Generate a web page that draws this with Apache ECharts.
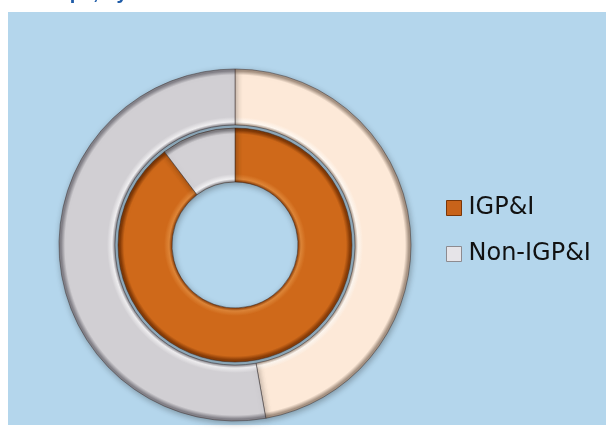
<!DOCTYPE html>
<html>
<head>
<meta charset="utf-8">
<script src="https://cdn.jsdelivr.net/npm/echarts@6/dist/echarts.min.js"></script>
<style>
  html, body { margin: 0; padding: 0; background: #ffffff; }
  #chart { width: 606px; height: 435px; }
</style>
</head>
<body>
<div id="chart"></div>
<script>
// Categories and shares (%) for the two rings
const categories = ['IGP&I', 'Non-IGP&I'];
const innerShares = [89.7, 10.3];   // inner ring
const outerShares = [47.2, 52.8];   // outer ring

const titleText = 'Groups, by Decade';

const cx = 235, cy = 245;
const innerR = [63, 117];
const outerR = [120, 176];

// Tube-like shading across a ring, laid out in chart pixels
function ringShade(r0, r1, edge, base, light) {
  const s = r0 / r1;
  const k = 1 / r1;
  return new echarts.graphic.RadialGradient(cx, cy, r1, [
    { offset: 0, color: base },
    { offset: s, color: edge },
    { offset: s + 3 * k, color: light },
    { offset: s + 8 * k, color: base },
    { offset: 1 - 6 * k, color: base },
    { offset: 1 - 2 * k, color: edge },
    { offset: 1, color: edge }
  ], true);
}

const innerColors = [
  ringShade(innerR[0], innerR[1], '#8a3d08', '#cf691a', '#df8638'),
  ringShade(innerR[0], innerR[1], '#8d8b90', '#d3d1d5', '#f2f1f3')
];
const outerColors = [
  ringShade(outerR[0], outerR[1], '#a89484', '#fde9d8', '#fff8f1'),
  ringShade(outerR[0], outerR[1], '#85838a', '#d1cfd3', '#f0eff1')
];

const chart = echarts.init(document.getElementById('chart'));
chart.setOption({
  animation: false,
  graphic: [
    {
      type: 'rect', silent: true, z: -10,
      shape: { x: 8, y: 12, width: 598, height: 413 },
      style: { fill: '#b4d6ec' }
    },
    {
      type: 'text', silent: true, z: -5,
      x: 22, y: 3,
      style: {
        text: titleText,
        fill: '#1f5ca8',
        font: 'bold 20px "Liberation Sans", Arial, sans-serif',
        verticalAlign: 'bottom'
      }
    }
  ],
  legend: {
    orient: 'vertical',
    left: 441,
    top: 191,
    itemWidth: 15,
    itemHeight: 15,
    itemGap: 22,
    icon: 'rect',
    textStyle: {
      fontFamily: '"DejaVu Sans", Verdana, sans-serif',
      fontSize: 24,
      color: '#111111',
      padding: [0, 0, 0, 2]
    },
    data: [
      { name: categories[0], itemStyle: { color: '#c8631a', borderColor: '#7a3608', borderWidth: 1 } },
      { name: categories[1], itemStyle: { color: '#e6e4e8', borderColor: '#8d8b90', borderWidth: 1 } }
    ]
  },
  series: [
    {
      type: 'pie',
      center: [cx, cy],
      radius: innerR,
      startAngle: 90,
      clockwise: true,
      label: { show: false },
      labelLine: { show: false },
      emphasis: { disabled: true },
      itemStyle: {
        borderColor: 'rgba(60,40,30,0.5)',
        borderWidth: 1,
        shadowBlur: 6,
        shadowColor: 'rgba(0,0,0,0.3)',
        shadowOffsetX: 1,
        shadowOffsetY: 2
      },
      data: categories.map((c, i) => ({
        name: c, value: innerShares[i], itemStyle: { color: innerColors[i] }
      }))
    },
    {
      type: 'pie',
      center: [cx, cy],
      radius: outerR,
      startAngle: 90,
      clockwise: true,
      label: { show: false },
      labelLine: { show: false },
      emphasis: { disabled: true },
      itemStyle: {
        borderColor: 'rgba(60,50,50,0.5)',
        borderWidth: 1,
        shadowBlur: 6,
        shadowColor: 'rgba(0,0,0,0.3)',
        shadowOffsetX: 1,
        shadowOffsetY: 2
      },
      data: categories.map((c, i) => ({
        name: c, value: outerShares[i], itemStyle: { color: outerColors[i] }
      }))
    }
  ]
});
</script>
</body>
</html>
